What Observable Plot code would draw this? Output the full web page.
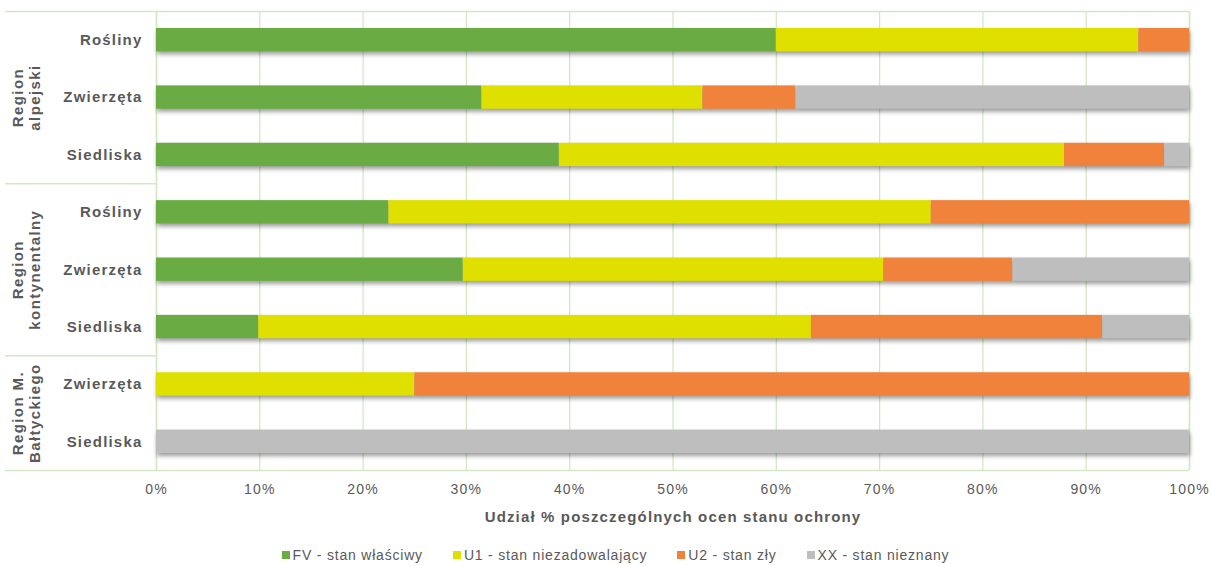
<!DOCTYPE html>
<html>
<head>
<meta charset="utf-8">
<script src="https://cdn.jsdelivr.net/npm/d3@7"></script>
<script src="https://cdn.jsdelivr.net/npm/@observablehq/plot@0.6"></script>
<style>
  html, body { margin: 0; padding: 0; background: #fff; }
  #chart svg { display: block; }
  .bars { filter: drop-shadow(1px 3px 2px rgba(0,0,0,0.38)); }
  .rowlab { letter-spacing: 1.2px; }
  .reglab { letter-spacing: 1.4px; }
  .axlab { letter-spacing: 1.15px; }
  .xticks, .xticks text { letter-spacing: 1.2px; }
  #legend { display: flex; justify-content: center; margin-top: 9px; margin-left: 20px;
    font-family: "Liberation Sans", Arial, sans-serif; font-size: 14px; color: #595959; letter-spacing: 0.8px; }
  #legend .item { display: flex; align-items: center; margin: 0 15px; }
  #legend .sw { width: 8px; height: 8px; margin-right: 3px; }
</style>
</head>
<body>
<div id="chart"></div>
<div id="legend"></div>
<script>
// ---- data ----
const categories = ["Rośliny", "Zwierzęta", "Siedliska", "Rośliny", "Zwierzęta", "Siedliska", "Zwierzęta", "Siedliska"];
const regionOfRow = ["alp", "alp", "alp", "kon", "kon", "kon", "bal", "bal"];
const regionKeys = ["alp", "kon", "bal"];
const regionLabels = ["Region\nalpejski", "Region\nkontynentalny", "Region M.\nBałtyckiego"];
const statuses = ["FV - stan właściwy", "U1 - stan niezadowalający", "U2 - stan zły", "XX - stan nieznany"];
const colors = ["#6aac43", "#dfdf00", "#f0823c", "#bebebe"];
const fv = [60.0, 31.5, 39.0, 22.5, 29.7, 9.9, 0, 0];
const u1 = [35.1, 21.4, 48.9, 52.5, 40.7, 53.5, 25.0, 0];
const u2 = [4.9, 9.0, 9.7, 25.0, 12.5, 28.2, 75.0, 0];
const xx = [0, 38.1, 2.4, 0, 17.1, 8.4, 0, 100];
const xTicks = [0, 10, 20, 30, 40, 50, 60, 70, 80, 90, 100];
const axisLabel = "Udział % poszczególnych ocen stanu ochrony";

// ---- build tables ----
const series = [fv, u1, u2, xx];
const segs = [];
categories.forEach((c, i) => {
  let acc = 0;
  series.forEach((s, k) => {
    const v = s[i];
    if (v > 0) segs.push({i, row: c, status: statuses[k], x1: acc, x2: acc + v});
    acc += v;
  });
});
const rowTable = categories.map((c, i) => ({i, row: c}));
const regionTable = regionKeys.map((r, k) => {
  const idx = regionOfRow.map((v, i) => v === r ? i : -1).filter(i => i >= 0);
  return {label: regionLabels[k], start: d3.min(idx), end: d3.max(idx) + 1};
});
const boundaries = [0, ...regionTable.map(r => r.end)];

// ---- layout ----
const W = 1211, H = 538, mL = 156, mR = 22, mT = 11, mB = H - 470;
const pxPerUnit = (W - mL - mR) / 100;
const leftLineX = -(mL - 5) / pxPerUnit;
const gridColor = "#d3e7c5";
const textColor = "#595959";
const font = "'Liberation Sans', Arial, sans-serif";

const chart = Plot.plot({
  width: W, height: H,
  marginLeft: mL, marginRight: mR, marginTop: mT, marginBottom: mB,
  style: {fontFamily: font, fontSize: "14px", color: textColor, background: "#fff"},
  x: {domain: [0, 100], axis: null},
  y: {domain: [0, categories.length], reverse: true, axis: null},
  color: {domain: statuses, range: colors},
  marks: [
    Plot.gridX(xTicks, {stroke: gridColor, strokeOpacity: 1, strokeWidth: 1.3}),
    Plot.ruleX([0, 100], {stroke: gridColor, strokeWidth: 1.5}),
    Plot.ruleY(boundaries, {y: d => d, x1: leftLineX, x2: d => (d === 0 || d === categories.length) ? 100 : 0, stroke: gridColor, strokeWidth: 1.5}),
    Plot.rect(segs, {x1: "x1", x2: "x2", y1: "i", y2: d => d.i + 1, insetTop: 17, insetBottom: 17, fill: "status", className: "bars"}),
    Plot.axisX(xTicks, {tickFormat: d => d + "%", tickSize: 0, tickPadding: 14, fontSize: 14, fill: textColor, label: null, className: "xticks"}),
    Plot.text([axisLabel], {frameAnchor: "bottom", dy: 51, text: d => d, fontWeight: "bold", fontSize: 15, fill: textColor, className: "axlab"}),
    Plot.text(rowTable, {y: d => d.i + 0.5, text: "row", frameAnchor: "left", dx: -14, textAnchor: "end",
      fontWeight: "bold", fontSize: 15, fill: textColor, className: "rowlab"}),
    Plot.text(regionTable, {y: d => (d.start + d.end) / 2, text: "label", frameAnchor: "left", dx: -130, rotate: -90,
      textAnchor: "middle", lineAnchor: "middle", lineHeight: 1.13,
      fontWeight: "bold", fontSize: 15, fill: textColor, className: "reglab"})
  ]
});
document.getElementById("chart").appendChild(chart);

// ---- legend ----
const legend = d3.select("#legend");
statuses.forEach((s, k) => {
  const it = legend.append("div").attr("class", "item");
  it.append("div").attr("class", "sw").style("background", colors[k]);
  it.append("span").text(s);
});
</script>
</body>
</html>
